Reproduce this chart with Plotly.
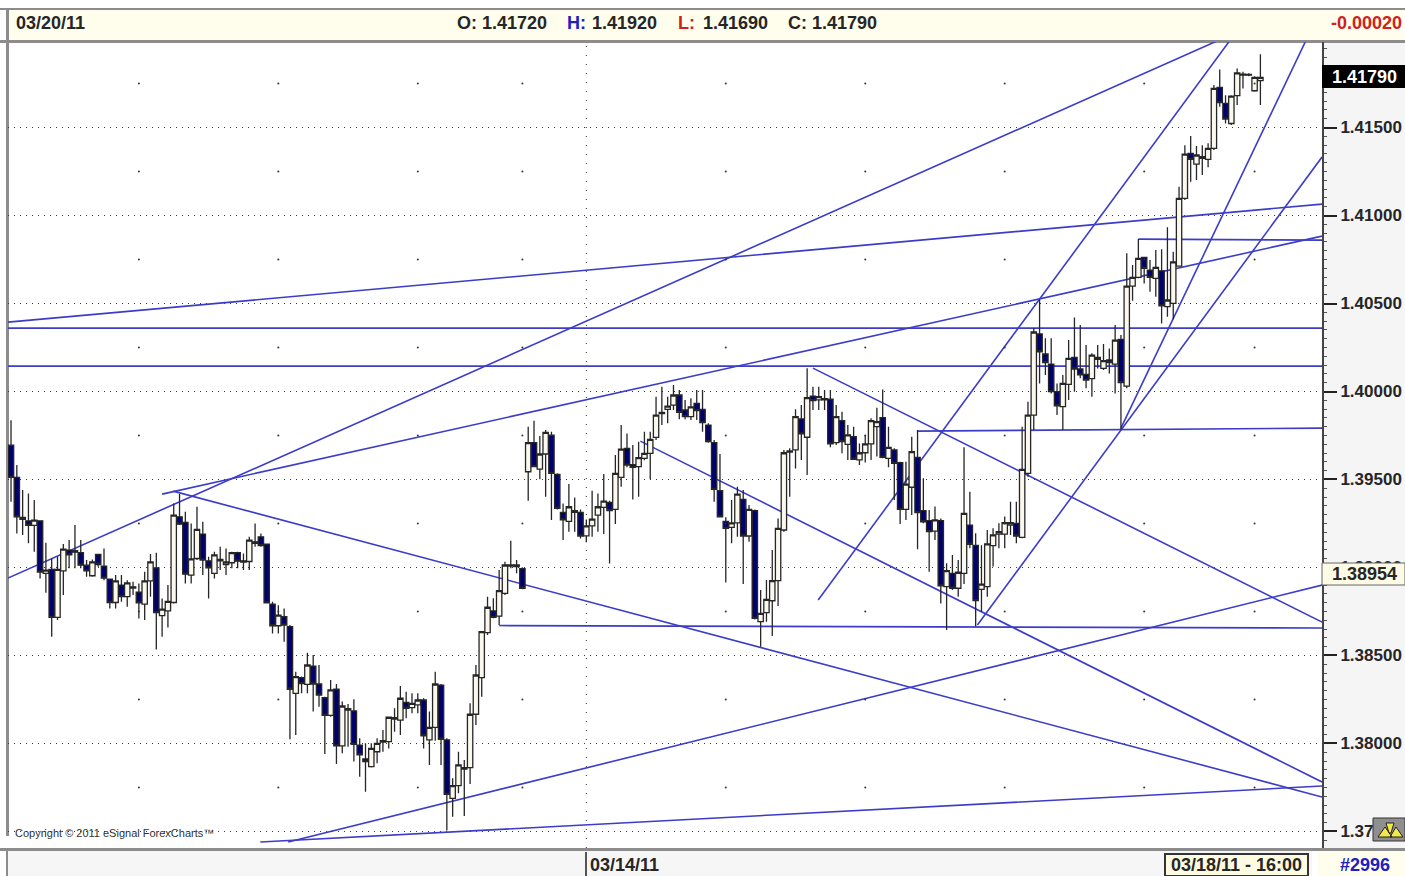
import plotly.graph_objects as go

# ---- data ----
bar_index = list(range(1, 217))
opens = [
1.39695,1.39512,1.39284,1.39265,1.39239,1.39265,1.38966,1.38989,1.38716,1.38981,
1.39099,1.39095,1.39084,1.39013,1.38953,1.39074,1.39008,1.38934,1.38801,1.38900,
1.38834,1.38890,1.38860,1.38792,1.38924,1.38998,1.38726,1.38754,1.38801,1.39288,
1.39256,1.38957,1.39051,1.39190,1.39038,1.38966,1.39046,1.39017,1.39027,1.39084,
1.39038,1.39034,1.39146,1.39174,1.39133,1.38792,1.38669,1.38720,1.38664,1.38285,
1.38374,1.38336,1.38440,1.38338,1.38260,1.38160,1.38308,1.37986,1.38198,1.38185,
1.37991,1.37912,1.37868,1.37953,1.38008,1.38010,1.38147,1.38133,1.38234,1.38204,
1.38219,1.38247,1.38020,1.38092,1.38332,1.38020,1.37688,1.37760,1.37863,1.37863,
1.38166,1.38374,1.38630,1.38753,1.38724,1.38853,1.39014,1.39005,1.38993,1.39544,
1.39709,1.39559,1.39645,1.39752,1.39529,1.39313,1.39262,1.39323,1.39313,1.39180,
1.39237,1.39298,1.39342,1.39370,1.39330,1.39512,1.39677,1.39584,1.39573,1.39620,
1.39648,1.39739,1.39874,1.39898,1.39923,1.39980,1.39895,1.39857,1.39932,1.39898,
1.39809,1.39709,1.39436,1.39262,1.39228,1.39254,1.39387,1.39179,1.39323,1.38692,
1.38743,1.38811,1.38925,1.39213,1.39656,1.39668,1.39844,1.39740,1.39974,1.39952,
1.39959,1.39956,1.39709,1.39834,1.39700,1.39743,1.39611,1.39652,1.39702,1.39800,
1.39851,1.39620,1.39668,1.39596,1.39330,1.39456,1.39626,1.39323,1.39266,1.39207,
1.39266,1.38891,1.38967,1.38882,1.38967,1.39241,1.39126,1.38876,1.38891,1.39124,
1.39190,1.39190,1.39241,1.39251,1.39171,1.39535,1.39866,1.40327,1.40213,1.40156,
1.39999,1.39914,1.40041,1.40194,1.40128,1.40097,1.40073,1.40194,1.40131,1.40179,
1.40156,1.40296,1.40031,1.40599,1.40648,1.40762,1.40690,1.40643,1.40686,1.40482,
1.40501,1.40713,1.41097,1.41353,1.41292,1.41334,1.41319,1.41381,1.41728,1.41637,
1.41523,1.41681,1.41798,1.41798,1.41709,1.41766]
highs = [
1.39837,1.39582,1.39440,1.39421,1.39383,1.39269,1.39140,1.39051,1.39061,1.39133,
1.39156,1.39241,1.39156,1.39042,1.39046,1.39074,1.39108,1.38938,1.38957,1.38957,
1.38928,1.38919,1.38909,1.38976,1.39076,1.39084,1.38824,1.38900,1.39364,1.39417,
1.39317,1.39250,1.39345,1.39260,1.39061,1.39089,1.39118,1.39108,1.39089,1.39089,
1.39080,1.39174,1.39250,1.39193,1.39133,1.38805,1.38786,1.38767,1.38673,1.38408,
1.38380,1.38516,1.38503,1.38446,1.38266,1.38361,1.38338,1.38238,1.38224,1.38251,
1.38029,1.38001,1.38001,1.38029,1.38077,1.38152,1.38200,1.38327,1.38294,1.38285,
1.38285,1.38257,1.38181,1.38408,1.38338,1.38029,1.37802,1.37953,1.37906,1.38228,
1.38446,1.38635,1.38834,1.38825,1.38986,1.39033,1.39152,1.39043,1.39001,1.39800,
1.39834,1.39747,1.39781,1.39771,1.39535,1.39364,1.39474,1.39398,1.39330,1.39273,
1.39436,1.39421,1.39531,1.39379,1.39639,1.39809,1.39762,1.39696,1.39715,1.39771,
1.39771,1.39970,1.40027,1.39970,1.40037,1.40008,1.39951,1.39961,1.40008,1.40008,
1.39819,1.39724,1.39645,1.39285,1.39383,1.39459,1.39440,1.39355,1.39330,1.38872,
1.38929,1.39099,1.39279,1.39667,1.39677,1.39899,1.39923,1.40132,1.40027,1.40027,
1.40009,1.40009,1.39923,1.39885,1.39810,1.39800,1.39705,1.39753,1.39848,1.39908,
1.40012,1.39800,1.39677,1.39601,1.39601,1.39743,1.39781,1.39507,1.39327,1.39346,
1.39279,1.39024,1.39071,1.39043,1.39683,1.39431,1.39194,1.39126,1.39213,1.39223,
1.39251,1.39289,1.39374,1.39374,1.39800,1.39942,1.40359,1.40523,1.40302,1.40302,
1.40046,1.40094,1.40292,1.40421,1.40378,1.40264,1.40217,1.40264,1.40270,1.40245,
1.40378,1.40321,1.40785,1.40719,1.40866,1.40762,1.40747,1.40804,1.40808,1.40933,
1.40794,1.41164,1.41400,1.41452,1.41395,1.41400,1.41410,1.41741,1.41830,1.41684,
1.41684,1.41836,1.41817,1.41808,1.41792,1.41917]
lows = [
1.39373,1.39193,1.39184,1.39137,1.39089,1.38938,1.38856,1.38606,1.38701,1.38843,
1.38995,1.38995,1.38995,1.38947,1.38947,1.39004,1.38928,1.38767,1.38767,1.38805,
1.38777,1.38843,1.38710,1.38701,1.38834,1.38534,1.38606,1.38659,1.38796,1.39241,
1.38909,1.38909,1.39042,1.38957,1.38824,1.38938,1.38985,1.38957,1.38995,1.38995,
1.38985,1.38985,1.39118,1.39118,1.38796,1.38625,1.38625,1.38578,1.38024,1.38048,
1.38285,1.38285,1.38181,1.38209,1.37940,1.38152,1.37883,1.37944,1.37982,1.37897,
1.37811,1.37726,1.37864,1.37887,1.37953,1.37972,1.38067,1.38048,1.38143,1.38171,
1.38171,1.37972,1.37878,1.38016,1.37878,1.37505,1.37584,1.37717,1.37588,1.37770,
1.38105,1.38266,1.38616,1.38711,1.38673,1.38844,1.38995,1.38967,1.38876,1.39379,
1.39569,1.39501,1.39402,1.39270,1.39330,1.39156,1.39203,1.39203,1.39165,1.39143,
1.39175,1.39203,1.39190,1.39023,1.39247,1.39459,1.39569,1.39387,1.39402,1.39610,
1.39501,1.39724,1.39809,1.39819,1.39895,1.39842,1.39842,1.39838,1.39838,1.39771,
1.39709,1.39374,1.39285,1.38915,1.39137,1.39175,1.38906,1.39146,1.38705,1.38550,
1.38692,1.38610,1.38781,1.39203,1.39402,1.39563,1.39611,1.39526,1.39895,1.39895,
1.39895,1.39683,1.39696,1.39649,1.39611,1.39611,1.39582,1.39596,1.39611,1.39630,
1.39620,1.39569,1.39384,1.39247,1.39270,1.39298,1.39103,1.39251,1.38976,1.39156,
1.38796,1.38645,1.38872,1.38834,1.38906,1.39109,1.38664,1.38749,1.38834,1.39005,
1.39109,1.39109,1.39185,1.39137,1.39166,1.39516,1.39781,1.40046,1.40094,1.39989,
1.39866,1.39781,1.39951,1.39999,1.40075,1.40018,1.39970,1.40131,1.40122,1.40103,
1.39989,1.39781,1.40018,1.40516,1.40643,1.40614,1.40567,1.40539,1.40387,1.40425,
1.40410,1.40709,1.41088,1.41192,1.41202,1.41230,1.41274,1.41372,1.41618,1.41523,
1.41514,1.41628,1.41722,1.41792,1.41703,1.41628]
closes = [
1.39512,1.39288,1.39273,1.39239,1.39269,1.38974,1.38985,1.38716,1.38989,1.39104,
1.39072,1.39087,1.39013,1.38981,1.39032,1.39017,1.38940,1.38801,1.38924,1.38834,
1.38913,1.38883,1.38799,1.38924,1.39032,1.38743,1.38763,1.38807,1.39298,1.39246,
1.38962,1.39049,1.39216,1.39042,1.38998,1.39072,1.39038,1.39032,1.39084,1.39036,
1.39031,1.39156,1.39137,1.39125,1.38799,1.38669,1.38729,1.38673,1.38308,1.38380,
1.38340,1.38446,1.38338,1.38275,1.38160,1.38304,1.37986,1.38213,1.38190,1.37995,
1.37935,1.37897,1.37972,1.38001,1.38016,1.38149,1.38139,1.38257,1.38200,1.38228,
1.38247,1.38043,1.38092,1.38338,1.38024,1.37711,1.37760,1.37878,1.37855,1.38166,
1.38389,1.38635,1.38774,1.38717,1.38868,1.39014,1.39008,1.39014,1.38882,1.39709,
1.39573,1.39645,1.39768,1.39535,1.39336,1.39270,1.39345,1.39313,1.39179,1.39237,
1.39275,1.39345,1.39377,1.39323,1.39535,1.39673,1.39582,1.39569,1.39624,1.39648,
1.39728,1.39866,1.39881,1.39917,1.39980,1.39881,1.39857,1.39913,1.39891,1.39823,
1.39715,1.39444,1.39288,1.39222,1.39254,1.39417,1.39179,1.39330,1.38711,1.38739,
1.38819,1.38925,1.39222,1.39652,1.39663,1.39857,1.39759,1.39965,1.39948,1.39971,
1.39952,1.39702,1.39857,1.39715,1.39753,1.39615,1.39652,1.39702,1.39834,1.39829,
1.39626,1.39683,1.39592,1.39330,1.39474,1.39658,1.39312,1.39260,1.39204,1.39270,
1.38895,1.38982,1.38882,1.38973,1.39308,1.39132,1.38812,1.38906,1.39134,1.39185,
1.39204,1.39255,1.39255,1.39179,1.39558,1.39866,1.40338,1.40226,1.40164,1.39999,
1.39919,1.40046,1.40188,1.40128,1.40094,1.40065,1.40207,1.40183,1.40175,1.40164,
1.40292,1.40050,1.40599,1.40648,1.40756,1.40700,1.40648,1.40705,1.40486,1.40520,
1.40737,1.41097,1.41349,1.41319,1.41344,1.41325,1.41381,1.41722,1.41641,1.41548,
1.41679,1.41811,1.41804,1.41802,1.41785,1.41785]

# drawn trend lines, as (bar, price) end points
line_bar0 = [0.48, 27.0, 0.48, 0.48, 0.48, 28.9, 139.0, 109.3, 85.0, 48.7, 43.9, 156.9, 139.9, 167.3, 192.0, 195.0]
line_px0 = [1.38940, 1.39417, 1.40394, 1.40360, 1.40144, 1.39434, 1.40133, 1.39718, 1.38670, 1.37440, 1.37440, 1.39775, 1.38815, 1.38673, 1.39792, 1.40866]
line_bar1 = [210.8, 226.6, 226.6, 226.6, 226.6, 226.6, 226.6, 226.6, 226.6, 226.6, 226.6, 226.6, 210.8, 226.6, 223.7, 226.6]
line_px1 = [1.42025, 1.40883, 1.41065, 1.40360, 1.40144, 1.37696, 1.38690, 1.37781, 1.38656, 1.38900, 1.37758, 1.39792, 1.41997, 1.41332, 1.41985, 1.40860]

tick_prices = [1.375, 1.38, 1.385, 1.39, 1.395, 1.40, 1.405, 1.41, 1.415]
tick_labels = ["1.37500", "1.38000", "1.38500", "1.39000", "1.39500", "1.40000", "1.40500", "1.41000", "1.41500"]
half_prices = [1.3775, 1.3825, 1.3875, 1.3925, 1.3975, 1.4025, 1.4075, 1.4125, 1.4175]
dot_bars = [23, 47, 71, 89, 124, 148, 172, 196, 215]
week_bar = 100

# ---- page geometry ----
W, H = 1405, 876
L, R, T, B = 8, 1322, 42, 848
X0, X1 = 0.48, 226.6
Y0, Y1 = 1.37406, 1.41986
FONT = "Liberation Sans"
BLUE = "#3c3cc8"


def px(x):
    return (x - L) / (R - L)


def py(y):
    return 1 - (y - T) / (B - T)


def panel(x0, y0, x1, y1, fill, line=None, width=0, layer="below"):
    return dict(type="rect", xref="paper", yref="paper", x0=px(x0), x1=px(x1), y0=py(y0), y1=py(y1),
                fillcolor=fill, line=dict(color=line or fill, width=width), layer=layer)


def label(text, x, y, size=18, color="#262626", anchor="left", bold=True):
    return dict(text=text, x=px(x), y=py(y), xref="paper", yref="paper", xanchor=anchor, yanchor="middle",
                showarrow=False, borderpad=0,
                font=dict(family=FONT, size=size, color=color, weight="bold" if bold else "normal"))


shapes = [
    panel(0, 0, W, H, "#ffffff"),
    panel(R, T, W, B, "#f5f5f5"),
    panel(8, 10, W, 40, "#fffdec"),
    panel(0, 8, W, 10, "#8c8c8c"),
    panel(0, 40, W, 43, "#8c8c8c"),
    panel(6, 8, 9, 40, "#8c8c8c"),
    panel(6, T, 9, 836, "#8c8c8c"),
    panel(0, 848, W, 851, "#8c8c8c"),
    panel(8, 851, 1312, H, "#f6f6f6"),
    panel(6, 851, 8, H, "#8c8c8c"),
    panel(585, 852, 587, H, "#555555"),
    panel(1312, 851, 1316, H, "#ffffff"),
    panel(1318, 851, W, H, "#fffdec"),
    panel(1165, 854, 1308, H, "#fffbe0", line="#333333", width=2),
]
for p in tick_prices:
    shapes.append(dict(type="line", xref="x", yref="y", x0=X0, x1=X1, y0=p, y1=p, layer="below",
                       line=dict(color="#333333", width=1, dash="1px,5px")))
shapes.append(dict(type="line", xref="x", yref="y", x0=week_bar, x1=week_bar, y0=Y0, y1=Y1, layer="below",
                   line=dict(color="#333333", width=1, dash="1px,8px")))
for a, b, c, d in zip(line_bar0, line_px0, line_bar1, line_px1):
    shapes.append(dict(type="line", xref="x", yref="y", x0=a, y0=b, x1=c, y1=d, layer="below",
                       line=dict(color=BLUE, width=1.6)))
# scales icon in the lower right corner
shapes += [
    panel(1373, 818, W, 841, "#8f8f8f", line="#333333", width=1, layer="above"),
    dict(type="path", xref="paper", yref="paper", layer="above",
         path=f"M {px(1378)} {py(837)} L {px(1385)} {py(827)} L {px(1392)} {py(837)} Z "
              f"M {px(1390)} {py(837)} L {px(1396)} {py(827)} L {px(1403)} {py(837)} Z "
              f"M {px(1386)} {py(823)} L {px(1394)} {py(823)} L {px(1391)} {py(833)} L {px(1389)} {py(833)} Z",
         fillcolor="#f4e94a", line=dict(color="#222222", width=1)),
]

fig = go.Figure()
fig.add_trace(go.Scatter(
    x=[b for b in dot_bars for _ in half_prices],
    y=[p for _ in dot_bars for p in half_prices],
    mode="markers", marker=dict(size=2, color="#333333"), hoverinfo="skip", showlegend=False))
fig.add_trace(go.Candlestick(
    x=bar_index, open=opens, high=highs, low=lows, close=closes, whiskerwidth=0,
    increasing=dict(fillcolor="#fbf9ee", line=dict(color="#262626", width=1.3)),
    decreasing=dict(fillcolor="#00006e", line=dict(color="#262626", width=1.3)),
    hoverinfo="skip", showlegend=False))

annotations = [
    label("03/20/11", 15, 23),
    label("O: 1.41720", 456, 23),
    label("H:", 566, 23, color="#2020c0"),
    label("1.41920", 591, 23),
    label("L:", 677, 23, color="#d02020"),
    label("1.41690", 702, 23),
    label("C: 1.41790", 787, 23),
    label("-0.00020", 1403, 23, color="#d02020", anchor="right"),
    label("Copyright © 2011 eSignal ForexCharts™", 14, 833, size=11, color="#333333", bold=False),
    label("03/14/11", 589, 865),
    label("03/18/11 - 16:00", 1236, 865, anchor="center"),
    label("#2996", 1365, 865, color="#2020c0", anchor="center"),
]

fig.update_layout(
    width=W, height=H, margin=dict(l=L, r=W - R, t=T, b=H - B, pad=0, autoexpand=False),
    paper_bgcolor="#ffffff", plot_bgcolor="#ffffff", showlegend=False, boxgap=0.08, boxgroupgap=0,
    shapes=shapes, annotations=annotations, font=dict(family=FONT),
    xaxis=dict(range=[X0, X1], showgrid=False, zeroline=False, showticklabels=False, ticks="",
               rangeslider=dict(visible=False), showline=False, automargin=False),
    yaxis=dict(range=[Y0, Y1], side="right", showgrid=False, zeroline=False, automargin=False,
               tickvals=tick_prices, ticktext=tick_labels, ticks="outside", ticklen=13, tickwidth=2,
               tickcolor="#222222", tickfont=dict(family=FONT, size=17, color="#262626", weight="bold"),
               showline=True, linecolor="#444444", linewidth=2,
               minor=dict(dtick=0.0005, tick0=1.375, ticks="outside", ticklen=3, tickcolor="#555555", tickwidth=1)),
)

# price flags on the right axis, drawn over the tick labels
fig.add_shape(panel(R, 65, W, 88, "#000000", layer="above"))
fig.add_annotation(label("1.41790", 1364, 76.5, color="#ffffff", anchor="center"))
fig.add_shape(panel(R, 563, W, 585, "#fdfbe6", line="#666666", width=1, layer="above"))
fig.add_annotation(label("1.38954", 1364, 574, color="#262626", anchor="center"))

fig.write_html("out.html", config={"displayModeBar": False},
               post_script="document.body.style.margin='0';document.body.style.overflow='hidden';")
